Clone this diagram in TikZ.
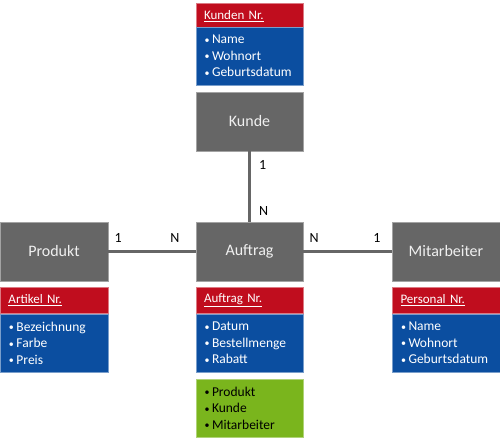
\documentclass[tikz,border=0pt]{standalone}
\usepackage{fontspec}
\setmainfont{Carlito}
\definecolor{entgray}{HTML}{666666}
\definecolor{entred}{HTML}{C00D1E}
\definecolor{entblue}{HTML}{0B4EA0}
\definecolor{entgreen}{HTML}{7AB51D}
\definecolor{lblwhite}{HTML}{F0F0F0}
\newcommand\itembul{\makebox[8pt][l]{\hspace{0.5pt}\raisebox{0.6pt}{\fontsize{10}{10}\selectfont •}}}
\tikzset{
  box/.style={rectangle, outer sep=0pt, inner sep=0pt, line width=0.8pt, anchor=north west},
  entity/.style={box, fill=entgray, draw=entgray!60!white, text=lblwhite, font=\fontsize{16}{19}\selectfont},
  keybox/.style={box, fill=entred, draw=entred!55!white, text=white, minimum height=26, text width=107-16, inner xsep=8pt, align=left, font=\fontsize{13}{16}\selectfont},
  attrbox/.style={box, fill=entblue, draw=entblue!55!white, text=white, minimum height=58, text width=107-16, inner xsep=8pt, align=left, font=\fontsize{13.5}{16.5}\selectfont},
  fkbox/.style={attrbox, fill=entgreen, draw=entgreen!60!white, text=black},
  conn/.style={draw=entgray, line width=3pt},
  card/.style={font=\fontsize{14}{16}\selectfont, text=black, inner sep=0pt},
}
\begin{document}
\begin{tikzpicture}[x=1pt,y=-1pt]
\useasboundingbox (0,0) rectangle (500,443);
% Kunde
\node[keybox, minimum width=107] (kkey) at (196,3) {\underline{Kunden Nr.}};
\node[attrbox, minimum width=107] (kattr) at (196,27) {\itembul Name\\\itembul Wohnort\\\itembul Geburtsdatum};
\node[entity, minimum width=107, minimum height=59] (kunde) at (196,92) {Kunde};
% Produkt
\node[entity, minimum width=108, minimum height=59] (produkt) at (0,222) {Produkt};
\node[keybox, minimum width=108] (pkey) at (0,287) {\underline{Artikel Nr.}};
\node[attrbox, minimum width=108] (pattr) at (0,314) {\itembul Bezeichnung\\\itembul Farbe\\\itembul Preis};
% Auftrag
\node[entity, minimum width=107, minimum height=59] (auftrag) at (196,222) {Auftrag};
\node[keybox, minimum width=107] (akey) at (196,287) {\underline{Auftrag Nr.}};
\node[attrbox, minimum width=107] (aattr) at (196,314) {\itembul Datum\\\itembul Bestellmenge\\\itembul Rabatt};
\node[fkbox, minimum width=107] (afk) at (196,379) {\itembul Produkt\\\itembul Kunde\\\itembul Mitarbeiter};
% Mitarbeiter
\node[entity, minimum width=108, minimum height=59] (mitarbeiter) at (392,222) {Mitarbeiter};
\node[keybox, minimum width=108] (mkey) at (392,287) {\underline{Personal Nr.}};
\node[attrbox, minimum width=108] (mattr) at (392,314) {\itembul Name\\\itembul Wohnort\\\itembul Geburtsdatum};
% connectors
\draw[conn] (kunde.south) -- (auftrag.north)
  node[card, pos=0.2, anchor=west, xshift=8pt] (c1) {1}
  node[card, pos=0.85, anchor=west, xshift=8pt] (c2) {N};
\draw[conn] (produkt.east) -- (auftrag.west)
  node[card, pos=0, anchor=south west, xshift=5pt, yshift=7pt] (c3) {1}
  node[card, pos=1, anchor=south east, xshift=-15pt, yshift=7pt] (c4) {N};
\draw[conn] (auftrag.east) -- (mitarbeiter.west)
  node[card, pos=0, anchor=south west, xshift=5pt, yshift=7pt] (c5) {N}
  node[card, pos=1, anchor=south east, xshift=-10pt, yshift=7pt] (c6) {1};
\end{tikzpicture}
\end{document}
